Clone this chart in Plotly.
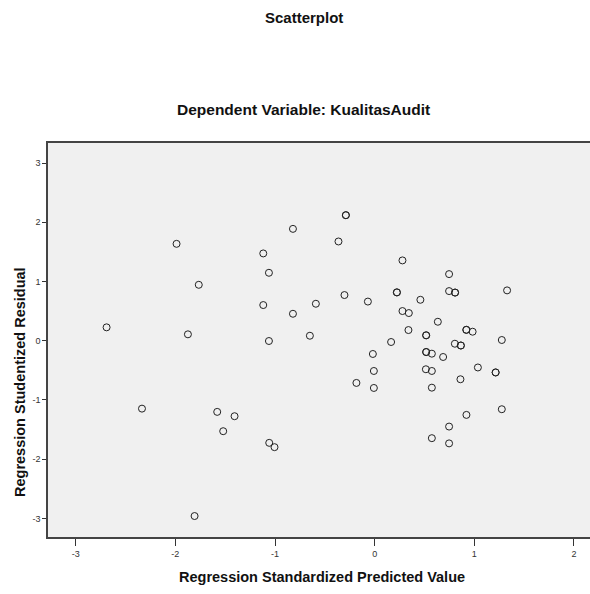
import plotly.graph_objects as go

# Regression standardized predicted value (x) and studentized residual (y)
pred = [-2.690, -2.335, -1.988, -1.874, -1.765, -1.807, -1.580, -1.520, -1.406,
        -1.118, -1.118, -1.061, -1.061, -1.058, -1.005, -0.820, -0.820, -0.650,
        -0.590, -0.363, -0.289, -0.289, -0.303, -0.183, -0.068, -0.018, -0.008,
        -0.008, 0.165, 0.223, 0.223, 0.279, 0.279, 0.343, 0.339, 0.459, 0.514,
        0.517, 0.517, 0.517, 0.517, 0.574, 0.574, 0.574, 0.574, 0.634, 0.687,
        0.747, 0.747, 0.807, 0.807, 0.747, 0.747, 0.805, 0.865, 0.865, 0.861,
        0.920, 0.920, 0.983, 0.921, 1.036, 1.214, 1.214, 1.276, 1.276, 1.329]
resid = [0.226, -1.147, 1.636, 0.108, 0.944, -2.961, -1.202, -1.528, -1.275,
         1.474, 0.602, 1.147, -0.005, -1.725, -1.798, 1.889, 0.455, 0.084,
         0.624, 1.676, 2.120, 2.120, 0.771, -0.713, 0.661, -0.224, -0.511,
         -0.798, -0.022, 0.816, 0.816, 1.356, 0.501, 0.467, 0.180, 0.691, -0.482,
         0.091, 0.091, -0.191, -0.191, -0.219, -0.511, -0.793, -1.646, 0.320, -0.275,
         1.125, 0.838, 0.813, 0.813, -1.450, -1.734, -0.051, -0.081, -0.081, -0.651,
         0.184, 0.184, 0.152, -1.253, -0.452, -0.536, -0.536, 0.012, -1.157, 0.850]

x_ticks = [-3, -2, -1, 0, 1, 2]
y_ticks = [-3, -2, -1, 0, 1, 2, 3]

main_title = "Scatterplot"
sub_title = "Dependent Variable: KualitasAudit"
x_title = "Regression Standardized Predicted Value"
y_title = "Regression Studentized Residual"

FONT = "Liberation Sans, Arial, sans-serif"

fig = go.Figure()
fig.add_trace(go.Scatter(
    x=pred, y=resid, mode="markers",
    marker=dict(symbol="circle-open", size=7, color="#222222",
                line=dict(width=1, color="#222222")),
    hoverinfo="x+y", showlegend=False,
))

fig.update_layout(
    width=590, height=594,
    margin=dict(l=48, r=0, t=143, b=57),
    paper_bgcolor="white",
    plot_bgcolor="#f0f0f0",
    font=dict(family=FONT, color="#222222"),
    xaxis=dict(
        range=[-3.278, 2.161], tickvals=x_ticks, ticktext=[str(v) for v in x_ticks],
        showgrid=False, zeroline=False,
        showline=True, linecolor="#444444", linewidth=1.5, mirror=True,
        ticks="outside", ticklen=7, tickwidth=1, tickcolor="#333333",
        tickfont=dict(size=9, family=FONT, color="#333333"),
    ),
    yaxis=dict(
        range=[-3.315, 3.339], tickvals=y_ticks, ticktext=[str(v) for v in y_ticks],
        showgrid=False, zeroline=False,
        showline=True, linecolor="#444444", linewidth=1.5, mirror=False,
        ticks="outside", ticklen=4, tickwidth=1, tickcolor="#333333",
        tickfont=dict(size=9, family=FONT, color="#333333"),
    ),
    annotations=[
        dict(text="<b>" + main_title + "</b>", xref="paper", yref="paper",
             x=(303.5 - 48) / 542, y=(594 - 57 - 17) / 394, showarrow=False,
             xanchor="center", yanchor="middle",
             font=dict(size=15, family=FONT, color="#111111")),
        dict(text="<b>" + sub_title + "</b>", xref="paper", yref="paper",
             x=(303.5 - 48) / 542, y=(594 - 57 - 109) / 394, showarrow=False,
             xanchor="center", yanchor="middle",
             font=dict(size=15.5, family=FONT, color="#111111")),
        dict(text="<b>" + x_title + "</b>", xref="paper", yref="paper",
             x=(322 - 48) / 542, y=(594 - 57 - 577) / 394, showarrow=False,
             xanchor="center", yanchor="middle",
             font=dict(size=14.5, family=FONT, color="#111111")),
        dict(text="<b>" + y_title + "</b>", xref="paper", yref="paper",
             x=(19.5 - 48) / 542, y=(594 - 57 - 382.5) / 394, showarrow=False,
             xanchor="center", yanchor="middle", textangle=-90,
             font=dict(size=14.5, family=FONT, color="#111111")),
    ],
)

fig.write_html(
    "out.html",
    config={"displayModeBar": False},
    post_script="document.body.style.margin='0px';document.body.style.overflow='hidden';",
)
